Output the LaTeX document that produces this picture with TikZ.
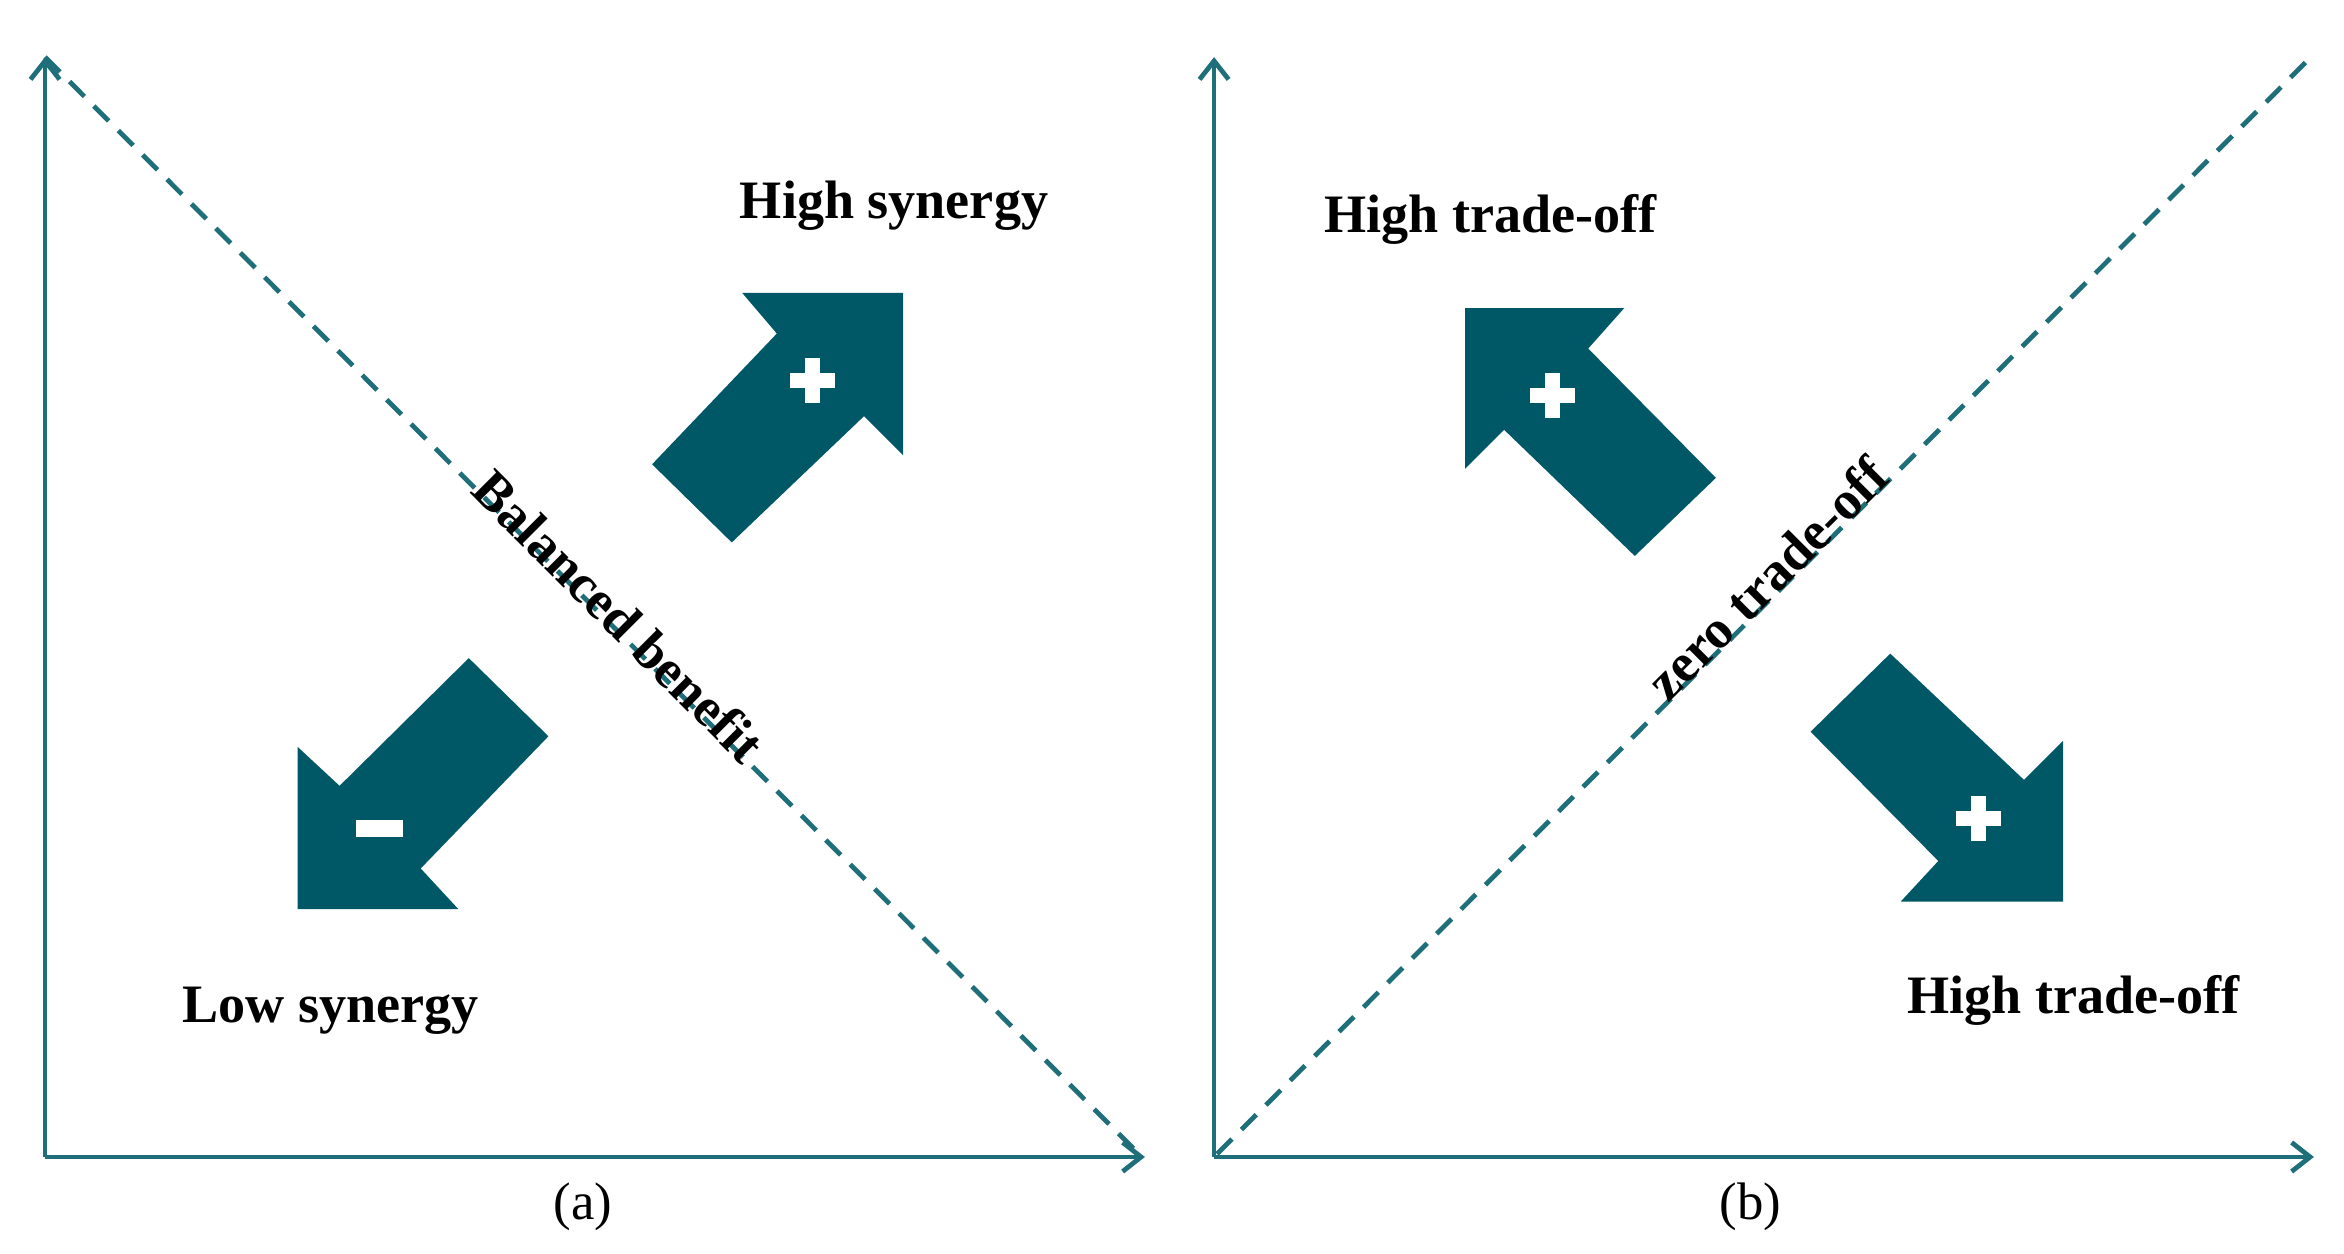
\documentclass[tikz,border=0pt]{standalone}
\usepackage{fontspec}
\setmainfont{Liberation Serif}
\usetikzlibrary{arrows.meta}
\definecolor{ax}{HTML}{1F6F7A}
\definecolor{ar}{HTML}{005766}
\begin{document}
\begin{tikzpicture}[x=0.02cm,y=-0.02cm,
  axis/.style={draw=ax,line width=1.8pt,-{Straight Barb[length=7pt,width=11pt,line width=1.8pt]}},
  dashln/.style={draw=ax,line width=1.8pt,dash pattern=on 0.28cm off 0.18cm},
  big/.style={fill=ar},
  lab/.style={font=\fontsize{20.5}{24}\selectfont\bfseries,inner sep=0pt},
  captxt/.style={font=\fontsize{20}{24}\selectfont,inner sep=0pt},
  sign/.style={fill=white}]
\useasboundingbox (0,0) rectangle (1560,834);
% panel a
\coordinate (ao) at (30,770); \coordinate (ay) at (30,38); \coordinate (ax) at (762,770);
\coordinate (ad1) at (30,38); \coordinate (ad2) at (758,768);
\draw[axis] (ao) -- (ay);
\draw[axis] (ao) -- (ax);
\draw[dashln] (ad1) -- (ad2);
\fill[big] (434,309) -- (517,222) -- (494,195) -- (601,195) -- (601,303) -- (575,277) -- (487,361) -- cycle;
\fill[big] (312,438) -- (226,523) -- (198,497) -- (198,605) -- (305,605) -- (280,578) -- (365,490) -- cycle;
\fill[sign] (536,238) rectangle (546,268);
\fill[sign] (526,248) rectangle (556,258);
\fill[sign] (237,546) rectangle (268,557);
\node[lab] (hs) at (595,137) {High synergy};
\node[lab] (ls) at (220,673) {Low synergy};
\node[lab,rotate=-45] (bb) at (412,410) {Balanced benefit};
\node[captxt] (a) at (388,803) {(a)};
% panel b
\coordinate (bo) at (808,770); \coordinate (by) at (808,38); \coordinate (bx) at (1540,770);
\coordinate (bd1) at (810,768); \coordinate (bd2) at (1538,38);
\draw[axis] (bo) -- (by);
\draw[axis] (bo) -- (bx);
\draw[dashln] (bd1) -- (bd2);
\fill[big] (1142,318) -- (1057,232) -- (1081,205) -- (975,205) -- (975,312) -- (1001,286) -- (1088,370) -- cycle;
\fill[big] (1205,487) -- (1290,573) -- (1265,600) -- (1373,600) -- (1373,493) -- (1347,519) -- (1258,435) -- cycle;
\fill[sign] (1028,248) rectangle (1038,278);
\fill[sign] (1018,258) rectangle (1048,268);
\fill[sign] (1312,530) rectangle (1322,560);
\fill[sign] (1302,540) rectangle (1332,550);
\node[lab] (ht1) at (992,146) {High trade-off};
\node[lab] (ht2) at (1380,666) {High trade-off};
\node[lab,rotate=45] (zt) at (1176,385) {zero trade-off};
\node[captxt] (b) at (1165,803) {(b)};
\end{tikzpicture}
\end{document}
